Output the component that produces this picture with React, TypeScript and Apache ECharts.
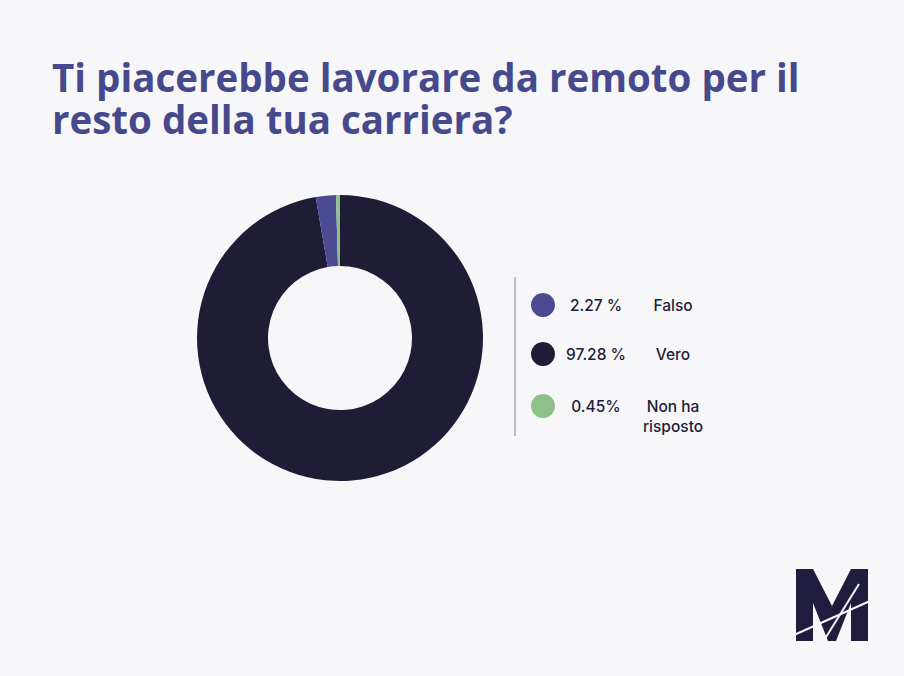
import React, { useEffect, useRef } from "react";
import * as echarts from "echarts";

const titleText = "Ti piacerebbe lavorare da remoto per il\nresto della tua carriera?";
const categories = ["Vero", "Falso", "Non ha risposto"];
const values = [97.28, 2.27, 0.45];
const colors = ["#1f1c35", "#4b4a93", "#8ec18a"];
const legendOrder = ["Falso", "Vero", "Non ha risposto"];
const legendPercents = ["2.27 %", "97.28 %", "0.45%"];
const legendLabels = ["Falso", "Vero", "Non ha\nrisposto"];

export default function App() {
  const ref = useRef<HTMLDivElement>(null);
  useEffect(() => {
    document.body.style.margin = "0";
    const chart = echarts.init(ref.current!, null, { renderer: "svg" });
    const legendY = [305, 354, 406];
    const legendGraphics: any[] = [];
    legendOrder.forEach((name, i) => {
      const idx = categories.indexOf(name);
      legendGraphics.push({
        type: "circle",
        shape: { cx: 543, cy: legendY[i], r: 12 },
        style: { fill: colors[idx] },
      });
      legendGraphics.push({
        type: "text",
        x: 596,
        y: legendY[i],
        style: {
          text: legendPercents[i],
          fill: "#1f1c35",
          font: "500 15.5px Inter, sans-serif",
          align: "center",
          verticalAlign: "middle",
        },
      });
      legendGraphics.push({
        type: "text",
        x: 673,
        y: legendY[i] - 10,
        style: {
          text: legendLabels[i],
          fill: "#1f1c35",
          font: "500 15.5px Inter, sans-serif",
          align: "center",
          verticalAlign: "top",
          lineHeight: 20,
        },
      });
    });
    chart.setOption({
      animation: false,
      backgroundColor: "#f7f7f9",
      title: {
        text: titleText,
        left: 52,
        top: 56.5,
        padding: 0,
        textStyle: {
          color: "#464a8c",
          fontFamily: "'Open Sans', sans-serif",
          fontWeight: "bold",
          fontSize: 38.5,
          lineHeight: 41.5,
        },
      },
      series: [
        {
          type: "pie",
          center: [340, 338],
          radius: [72, 143],
          startAngle: 90,
          clockwise: true,
          label: { show: false },
          labelLine: { show: false },
          emphasis: { disabled: true },
          data: categories.map((c, i) => ({
            name: c,
            value: values[i],
            itemStyle: { color: colors[i] },
          })),
        },
      ],
      graphic: [
        {
          type: "line",
          shape: { x1: 515, y1: 277, x2: 515, y2: 436 },
          style: { stroke: "#a9a9ad", lineWidth: 1.5 },
        },
        ...legendGraphics,
        {
          type: "polygon",
          shape: {
            points: [
              [796, 569], [813, 569], [832, 606], [851, 569], [868, 569],
              [868, 641], [851, 641], [851, 603], [836, 641], [828, 641],
              [813, 603], [813, 641], [796, 641],
            ],
          },
          style: { fill: "#1f1c3d" },
        },
        {
          type: "line",
          shape: { x1: 794, y1: 635, x2: 870, y2: 601 },
          style: { stroke: "#f7f7f9", lineWidth: 2 },
        },
        {
          type: "line",
          shape: { x1: 823, y1: 642, x2: 859, y2: 584 },
          style: { stroke: "#f7f7f9", lineWidth: 2 },
        },
      ],
    });
    return () => chart.dispose();
  }, []);
  return <div ref={ref} style={{ width: 904, height: 676 }} />;
}
